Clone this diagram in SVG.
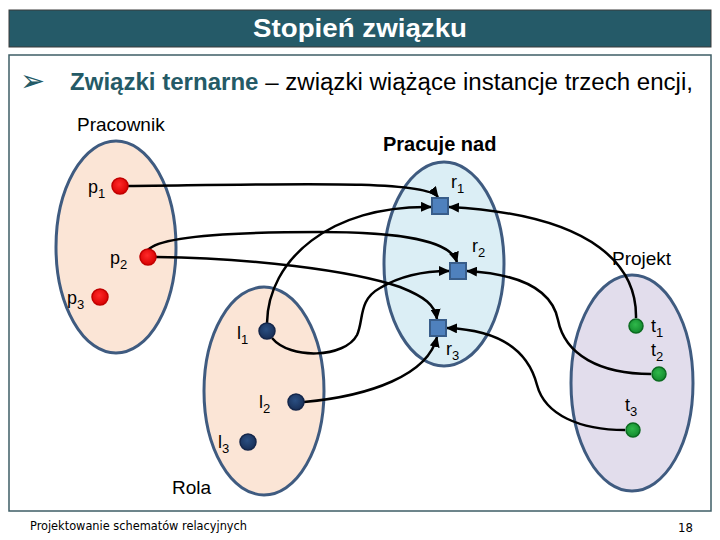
<svg xmlns="http://www.w3.org/2000/svg" width="720" height="540" viewBox="0 0 720 540">
<style>
text{font-family:"Liberation Sans",Arial,sans-serif;fill:#000}
.lbl{font-size:18px}
.sub{font-size:13px}
.ell{stroke:#3f5b80;stroke-width:3}
.con{fill:none;stroke:#000;stroke-width:2.5}
.red{fill:url(#gRed);stroke:#c00000;stroke-width:1.5}
.grn{fill:url(#gGrn);stroke:#0b6b20;stroke-width:1.5}
.nav{fill:url(#gNav);stroke:#14264a;stroke-width:1.5}
.sq{fill:#4f81bd;stroke:#385d8a;stroke-width:2}
</style>
<defs>
<radialGradient id="gRed" cx="0.45" cy="0.4" r="0.6"><stop offset="0" stop-color="#ff2a2a"/><stop offset="1" stop-color="#d80000"/></radialGradient>
<radialGradient id="gGrn" cx="0.45" cy="0.4" r="0.6"><stop offset="0" stop-color="#2fb84a"/><stop offset="1" stop-color="#138a2e"/></radialGradient>
<radialGradient id="gNav" cx="0.45" cy="0.4" r="0.6"><stop offset="0" stop-color="#2a4f82"/><stop offset="1" stop-color="#182f57"/></radialGradient>
<marker id="arr" markerUnits="userSpaceOnUse" markerWidth="11" markerHeight="10" refX="10" refY="5" orient="auto"><path d="M0,0 L11,5 L0,10 Z" fill="#000"/></marker>
</defs>
<rect width="720" height="540" fill="#fff"/>
<g id="title">
<rect x="9" y="10" width="702" height="37" fill="#255a68" stroke="#3a3a3a" stroke-width="1"/>
<text x="360" y="37" text-anchor="middle" textLength="214" lengthAdjust="spacingAndGlyphs" style="font-size:26px;font-weight:bold;fill:#fff">Stopień związku</text>
</g>
<rect x="9" y="55" width="702" height="456" fill="none" stroke="#3e5d66" stroke-width="1.5"/>
<g id="bullet">
<text x="20" y="91" style="font-family:'DejaVu Sans',sans-serif;font-size:30px;fill:#245a66">➢</text>
<text x="70" y="90" textLength="623" lengthAdjust="spacingAndGlyphs" style="font-size:23px"><tspan style="font-weight:bold;fill:#245a66">Związki ternarne</tspan> – związki wiążące instancje trzech encji,</text>
</g>
<g id="ellipses">
<g id="pracownik"><ellipse class="ell" cx="116" cy="247" rx="60" ry="106" fill="#fbe5d6"/><text x="77" y="131" style="font-size:19px">Pracownik</text></g>
<g id="pracuje"><ellipse class="ell" cx="444" cy="264" rx="60" ry="102" fill="#dbeef5"/><text x="383" y="151" style="font-size:20px;font-weight:bold">Pracuje nad</text></g>
<g id="rola"><ellipse class="ell" cx="264" cy="391" rx="60" ry="104" fill="#fbe5d6"/><text x="172" y="494" style="font-size:19px">Rola</text></g>
<g id="projekt"><ellipse class="ell" cx="632" cy="383" rx="61" ry="108" fill="#e2ddec"/><text x="612" y="265" style="font-size:19px">Projekt</text></g>
</g>
<g id="connectors">
<path class="con" marker-end="url(#arr)" d="M128,186 C 300,184 425,180 438,197"/>
<path class="con" marker-end="url(#arr)" d="M148,250 C 160,235 250,232 320,232 C 400,232 450,240 457,262"/>
<path class="con" marker-end="url(#arr)" d="M156,257 C 250,258 350,270 400,287 C 425,297 435,305 437,319"/>
<path class="con" marker-end="url(#arr)" d="M267,323 C 268,260 330,205 431,207"/>
<path class="con" marker-end="url(#arr)" d="M272,338 C 290,360 345,358 357,335 C 364,320 358,300 380,288 C 400,276 425,271 449,271"/>
<path class="con" marker-end="url(#arr)" d="M304,402 C 370,396 428,375 437,337"/>
<path class="con" marker-end="url(#arr)" d="M636,318 C 637,270 600,215 449,207"/>
<path class="con" marker-end="url(#arr)" d="M651,374 C 600,374 565,355 558,320 C 552,290 520,274 467,271"/>
<path class="con" marker-end="url(#arr)" d="M625,430 C 580,430 545,415 537,385 C 528,350 500,330 447,328"/>
</g>
<g id="p1"><circle class="red" cx="120" cy="186" r="8"/><text class="lbl" x="88" y="193">p<tspan class="sub" dy="5">1</tspan></text></g>
<g id="p2"><circle class="red" cx="148" cy="257" r="8"/><text class="lbl" x="110" y="264">p<tspan class="sub" dy="5">2</tspan></text></g>
<g id="p3"><circle class="red" cx="100" cy="297" r="8"/><text class="lbl" x="67" y="304">p<tspan class="sub" dy="5">3</tspan></text></g>
<g id="r1"><rect class="sq" x="432" y="198" width="16" height="16"/><text class="lbl" x="451" y="188">r<tspan class="sub" dy="5">1</tspan></text></g>
<g id="r2"><rect class="sq" x="450" y="263" width="16" height="16"/><text class="lbl" x="472" y="252">r<tspan class="sub" dy="5">2</tspan></text></g>
<g id="r3"><rect class="sq" x="430" y="320" width="16" height="16"/><text class="lbl" x="446" y="355">r<tspan class="sub" dy="5">3</tspan></text></g>
<g id="l1"><circle class="nav" cx="267" cy="331" r="8"/><text class="lbl" x="237" y="339">l<tspan class="sub" dy="5">1</tspan></text></g>
<g id="l2"><circle class="nav" cx="296" cy="402" r="8"/><text class="lbl" x="259" y="408">l<tspan class="sub" dy="5">2</tspan></text></g>
<g id="l3"><circle class="nav" cx="248" cy="442" r="8"/><text class="lbl" x="218" y="448">l<tspan class="sub" dy="5">3</tspan></text></g>
<g id="t1"><circle class="grn" cx="636" cy="326" r="7"/><text class="lbl" x="651" y="332">t<tspan class="sub" dy="5">1</tspan></text></g>
<g id="t2"><circle class="grn" cx="659" cy="374" r="7"/><text class="lbl" x="651" y="356">t<tspan class="sub" dy="5">2</tspan></text></g>
<g id="t3"><circle class="grn" cx="633" cy="430" r="7"/><text class="lbl" x="625" y="411">t<tspan class="sub" dy="5">3</tspan></text></g>
<g id="footer">
<text x="30" y="530" textLength="217" lengthAdjust="spacingAndGlyphs" style="font-family:'DejaVu Sans',sans-serif;font-stretch:condensed;font-size:13px">Projektowanie schematów relacyjnych</text>
<text x="678" y="532" style="font-family:'DejaVu Sans',sans-serif;font-stretch:condensed;font-size:13px">18</text>
</g>
</svg>
